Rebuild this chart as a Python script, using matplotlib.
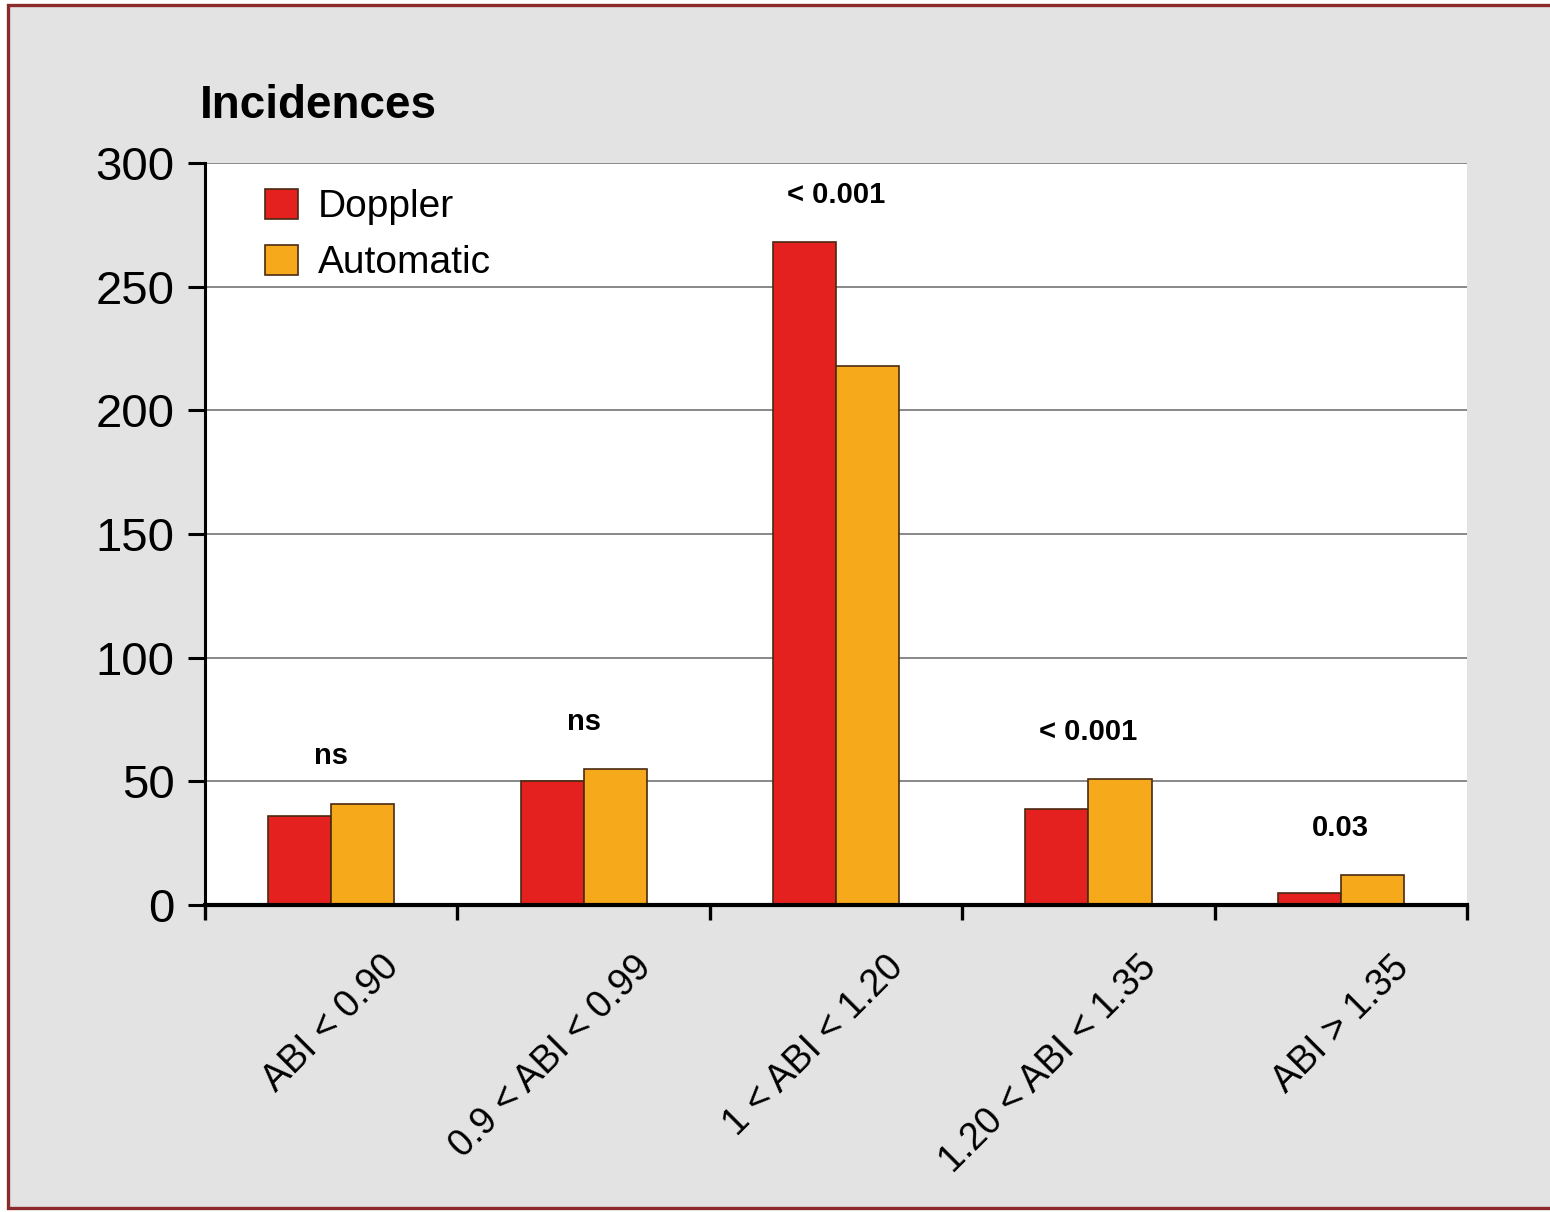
import numpy as np
import matplotlib
matplotlib.use("Agg")
import matplotlib.pyplot as plt
from matplotlib.patches import Rectangle

OUT_PNG = "out.png"

categories = ["ABI < 0.90", "0.9 < ABI < 0.99", "1 < ABI < 1.20", "1.20 < ABI < 1.35", "ABI > 1.35"]
doppler = [36, 50, 268, 39, 5]
automatic = [41, 55, 218, 51, 12]
p_values = ["ns", "ns", "< 0.001", "< 0.001", "0.03"]
y_ticks = [0, 50, 100, 150, 200, 250, 300]

FONT = ["Liberation Sans", "DejaVu Sans"]
RED = "#e5211f"
ORANGE = "#f7a91c"
EDGE = "#4a2a12"

fig = plt.figure(figsize=(15.5, 12.12), dpi=100, facecolor="white")

# scanned page background with dark red frame
fig.patches.append(Rectangle((0.005, 0.0035), 1.2, 0.9925, transform=fig.transFigure,
                             facecolor="#e3e3e3", edgecolor="#8c2b2b", linewidth=2.4, zorder=-5))

ax = fig.add_axes([0.1323, 0.2533, 0.8142, 0.6122])
ax.set_zorder(2)
ax.set_facecolor("white")

x = np.arange(len(categories)) + 0.5
w = 0.25
ax.bar(x - w / 2, doppler, w, color=RED, edgecolor=EDGE, linewidth=1.2, label="Doppler", zorder=3)
ax.bar(x + w / 2, automatic, w, color=ORANGE, edgecolor=EDGE, linewidth=1.2, label="Automatic", zorder=3)

ax.set_xlim(0, len(categories))
ax.set_ylim(0, 300)
ax.set_yticks(y_ticks)
ax.set_yticklabels([str(v) for v in y_ticks], family=FONT, fontsize=34)
ax.set_xticks(np.arange(len(categories) + 1))
ax.set_xticklabels([])
ax.tick_params(axis="y", length=12, width=2.2, pad=10, color="black")
ax.tick_params(axis="x", length=11, width=2.4, direction="out", color="black")

ax.grid(axis="y", color="#7f7f7f", linewidth=1.3, zorder=1)
ax.set_axisbelow(True)
for s in ["top", "right"]:
    ax.spines[s].set_visible(False)
ax.spines["left"].set_linewidth(2.2)
ax.spines["bottom"].set_linewidth(3.0)
ax.spines["bottom"].set_zorder(4)

# rotated category labels
for xi, lab in zip(x, categories):
    ax.annotate(lab, xy=(xi, 0), xytext=(50, -46), textcoords="offset points",
                rotation=45, ha="right", va="baseline", rotation_mode="anchor",
                family=FONT, fontsize=27, annotation_clip=False)

# significance labels above each group
for xi, d, a, p in zip(x, doppler, automatic, p_values):
    ax.annotate(p, xy=(xi, max(d, a)), xytext=(0, 34), textcoords="offset points",
                ha="center", va="center", family=FONT, fontweight="bold", fontsize=21)

leg = ax.legend(loc="upper left", bbox_to_anchor=(0.02, 1.012), frameon=False,
                prop={"family": FONT, "size": 28}, handlelength=0.85, handleheight=0.8,
                handletextpad=0.5, labelspacing=0.5)

fig.text(0.129, 0.9026, "Incidences", family=FONT, fontweight="bold", fontsize=33,
         ha="left", va="baseline")

plt.savefig(OUT_PNG, dpi=100, facecolor=fig.get_facecolor())
plt.close()
